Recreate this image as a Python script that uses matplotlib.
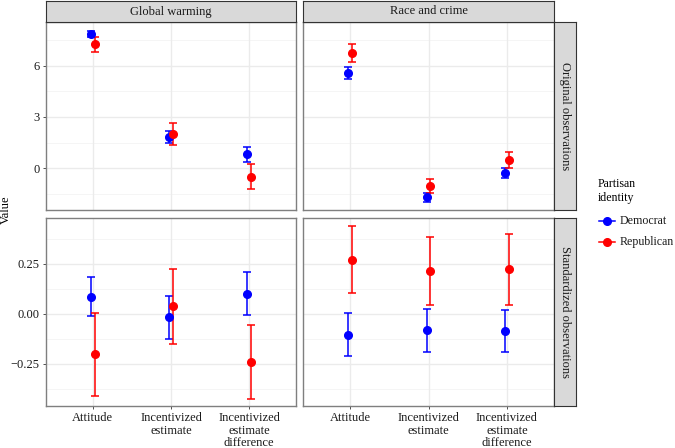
import matplotlib
matplotlib.use("Agg")
import matplotlib.pyplot as plt
from matplotlib.lines import Line2D
import numpy as np

plt.rcParams['font.family'] = ['Liberation Serif', 'DejaVu Serif']

categories = ["Attitude", "Incentivized\nestimate", "Incentivized\nestimate\ndifference"]
topics = ["Global warming", "Race and crime"]
rows = ["Original observations", "Standardized observations"]
parties = ["Democrat", "Republican"]
party_colors = ["#0000FF", "#FF0000"]

# Original observations: mean and error half-widths
gw_orig_dem = [7.87, 1.81, 0.82]
gw_orig_dem_err = [0.17, 0.36, 0.43]
gw_orig_rep = [7.25, 1.99, -0.49]
gw_orig_rep_err = [0.45, 0.63, 0.72]
rc_orig_dem = [5.59, -1.70, -0.27]
rc_orig_dem_err = [0.35, 0.25, 0.30]
rc_orig_rep = [6.72, -1.02, 0.50]
rc_orig_rep_err = [0.52, 0.41, 0.47]

# Standardized observations
gw_std_dem = [0.085, -0.017, 0.100]
gw_std_dem_err = [0.098, 0.107, 0.107]
gw_std_rep = [-0.203, 0.037, -0.240]
gw_std_rep_err = [0.208, 0.187, 0.183]
rc_std_dem = [-0.105, -0.083, -0.085]
rc_std_dem_err = [0.107, 0.109, 0.106]
rc_std_rep = [0.270, 0.213, 0.222]
rc_std_rep_err = [0.167, 0.169, 0.178]

data = {
    (0, 0): [(gw_orig_dem, gw_orig_dem_err), (gw_orig_rep, gw_orig_rep_err)],
    (0, 1): [(rc_orig_dem, rc_orig_dem_err), (rc_orig_rep, rc_orig_rep_err)],
    (1, 0): [(gw_std_dem, gw_std_dem_err), (gw_std_rep, gw_std_rep_err)],
    (1, 1): [(rc_std_dem, rc_std_dem_err), (rc_std_rep, rc_std_rep_err)],
}

W, H = 675, 448
fig = plt.figure(figsize=(W / 100, H / 100), dpi=100)

def fr(x0, y0, x1, y1):
    return [x0 / W, 1 - y1 / H, (x1 - x0) / W, (y1 - y0) / H]

col_x = [(46, 296), (303, 554)]
row_y = [(22, 210), (218, 406)]
strip_right = (554, 576)
strip_top = (1, 22)

ylims = [(-2.44, 8.55), (-0.46, 0.478)]
yticks = [[0, 3, 6], [-0.25, 0.0, 0.25]]
yticklabels = [["0", "3", "6"], ["\u22120.25", "0.00", "0.25"]]
yminor = [[-1.5, 1.5, 4.5, 7.5], [-0.375, -0.125, 0.125, 0.375]]

border_col = "#333333"
fs = 9
dodge = 0.05
x = np.arange(1, 4)

for r in range(2):
    for c in range(2):
        (x0, x1), (y0, y1) = col_x[c], row_y[r]
        ax = fig.add_axes(fr(x0, y0, x1, y1))
        ax.set_xlim(0.4, 3.6)
        ax.set_ylim(*ylims[r])
        for v in yminor[r]:
            ax.axhline(v, color="#F2F2F2", lw=0.5, zorder=0)
        for v in yticks[r]:
            ax.axhline(v, color="#EBEBEB", lw=1.0, zorder=0)
        for v in x:
            ax.axvline(v, color="#EBEBEB", lw=1.0, zorder=0)
        for p, (vals, errs) in enumerate(data[(r, c)]):
            off = -dodge / 2 if p == 0 else dodge / 2
            ax.errorbar(x + off, vals, yerr=errs, fmt="o", color=party_colors[p],
                        ms=5.5, elinewidth=1.1, capsize=3, capthick=1.1, zorder=3)
        ax.set_yticks(yticks[r])
        if c == 0:
            ax.set_yticklabels(yticklabels[r], fontsize=fs, color="#1A1A1A")
        else:
            ax.set_yticklabels([])
        ax.set_xticks(x)
        if r == 1:
            ax.set_xticklabels(categories, fontsize=fs, color="#1A1A1A", linespacing=1.05)
        else:
            ax.set_xticklabels([])
        ax.tick_params(axis="both", length=2.5, width=0.6, color="#333333", pad=2)
        if c == 1:
            ax.tick_params(axis="y", length=0)
        if r == 0:
            ax.tick_params(axis="x", length=0)
        for s in ax.spines.values():
            s.set_color("#7F7F7F")
            s.set_linewidth(1.0)

        # top strips
        if r == 0:
            sax = fig.add_axes(fr(x0, strip_top[0], x1, strip_top[1]))
            sax.set_facecolor("#D9D9D9")
            sax.set_xticks([]); sax.set_yticks([])
            for s in sax.spines.values():
                s.set_color(border_col); s.set_linewidth(0.8)
            sax.text(0.5, 0.5, topics[c], ha="center", va="center", fontsize=fs, color="#1A1A1A",
                     transform=sax.transAxes)
        # right strips
        if c == 1:
            sax = fig.add_axes(fr(strip_right[0], y0, strip_right[1], y1))
            sax.set_facecolor("#D9D9D9")
            sax.set_xticks([]); sax.set_yticks([])
            for s in sax.spines.values():
                s.set_color(border_col); s.set_linewidth(0.8)
            sax.text(0.5, 0.5, rows[r], ha="center", va="center", fontsize=fs, color="#1A1A1A",
                     rotation=-90, transform=sax.transAxes)

fig.text(6 / W, 1 - 210 / H, "Value", rotation=90, ha="center", va="center", fontsize=fs)

# legend (manual placement)
lfs = 8.6
fig.text(598 / W, 1 - 191 / H, "Partisan\nidentity", ha="left", va="center", fontsize=lfs,
         linespacing=1.3)
leg_ys = [221, 242]
for p in range(2):
    yy = 1 - leg_ys[p] / H
    fig.add_artist(Line2D([599 / W, 615 / W], [yy, yy], color=party_colors[p], lw=1.1,
                          transform=fig.transFigure))
    fig.add_artist(Line2D([607 / W], [yy], color=party_colors[p], marker="o", ms=5.5,
                          transform=fig.transFigure))
    fig.text(620 / W, yy, parties[p], ha="left", va="center", fontsize=lfs, color="#1A1A1A")

fig.savefig("out.png", dpi=100)
